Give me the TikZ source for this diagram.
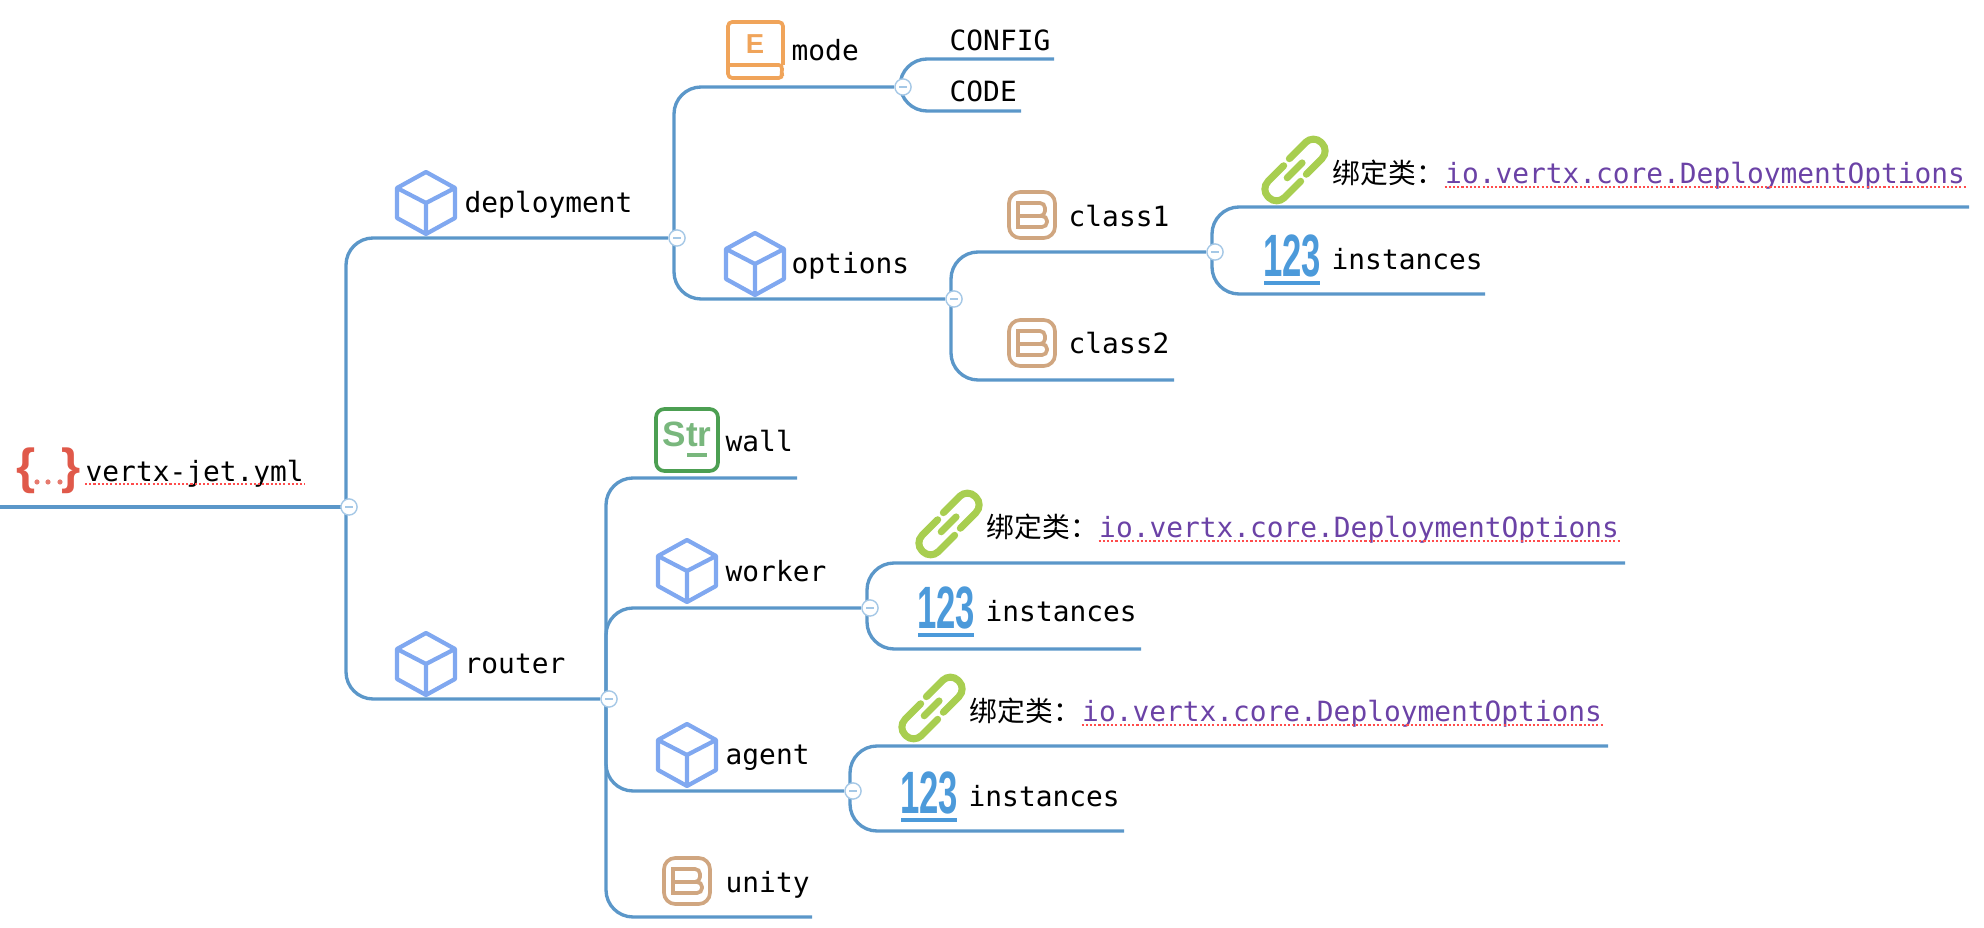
\documentclass[tikz,border=0pt]{standalone}
\usepackage{graphicx}
\usepackage{fontspec}
\setmainfont{Liberation Sans}
\setmonofont{DejaVu Sans Mono}
\newfontfamily\cjkfont{Noto Sans CJK SC}
\usetikzlibrary{positioning,backgrounds}
\definecolor{branchblue}{HTML}{5B97C9}
\definecolor{knotblue}{HTML}{A5C8E6}
\definecolor{cubeblue}{HTML}{80A8F0}
\definecolor{bookorange}{HTML}{F0A45A}
\definecolor{boxtan}{HTML}{D0A680}
\definecolor{linkgreen}{HTML}{A8CE50}
\definecolor{numblue}{HTML}{4C9ADA}
\definecolor{strgreen}{HTML}{4C9F52}
\definecolor{bracered}{HTML}{E0594A}
\definecolor{linkpurple}{HTML}{6B42A6}
\tikzset{
  cubeicon/.pic={
    \draw[cubeblue, line width=1.2pt, line join=round] (0,-31) -- (29,-15) -- (29,15) -- (0,31) -- (-29,15) -- (-29,-15) -- cycle;
    \draw[cubeblue, line width=1.2pt, line join=round] (-29,-15) -- (0,0) -- (29,-15) (0,0) -- (0,31);
  },
  bookicon/.pic={
    \draw[bookorange, line width=1.05pt, rounded corners=1.2pt] (28,15) -- (28,-28) -- (-27,-28) -- (-27,28) -- (28,28) -- (26,22) -- (28,15) -- (-27,15);
    \node[bookorange, inner sep=0pt, font=\fontsize{7.8}{8}\selectfont\bfseries] (letter) at (0,-6) {E};
  },
  boxicon/.pic={
    \draw[boxtan, line width=1.05pt, rounded corners=3.2pt] (-23,-23) rectangle (23,23);
    \draw[boxtan, line width=1.05pt] (-14,1) -- (-14,-12) [rounded corners=1.4pt] -- (13,-12) -- (13,1) [sharp corners] -- (-14,1);
    \draw[boxtan, line width=1.05pt] (-14,1) [rounded corners=1.4pt] -- (15,1) -- (15,12) [sharp corners] -- (-14,12) -- cycle;
  },
  linkicon/.pic={
    \begin{scope}[rotate=45, line width=2pt, linkgreen, rounded corners=3.1pt, line cap=round]
      \draw (4,-12) -- (38,-12) -- (38,11) -- (5,11);
      \draw (-4,12) -- (-38,12) -- (-38,-11) -- (-5,-11);
      \draw (-11,0) -- (10,0);
    \end{scope}
  },
  numicon/.pic={
    \node[numblue, inner sep=0pt, font=\fontsize{17}{17}\selectfont\bfseries] (digits) at (0,-3) {\scalebox{.58}[1]{123}};
    \draw[numblue, line width=1.2pt] (-28,24) -- (28,24);
  },
  stricon/.pic={
    \draw[strgreen, line width=1.05pt, rounded corners=2.4pt] (-31,-31) rectangle (31,31);
    \node[strgreen!75!white, inner sep=0pt, font=\fontsize{10}{10}\selectfont\bfseries] (letters) at (0,-6) {Str};
    \draw[strgreen!75!white, line width=1pt] (0,15) -- (20,15);
  },
  braceicon/.pic={
    \node[bracered, inner sep=0pt, font=\fontsize{14}{14}\selectfont\bfseries] (lbrace) at (-22,0) {\{};
    \node[bracered, inner sep=0pt, font=\fontsize{14}{14}\selectfont\bfseries] (rbrace) at (23,0) {\}};
    \foreach \d in {-11,0,12}{\fill[bracered!80!white] (\d,11) circle (2.6);}
  }
}
\begin{document}
\begin{tikzpicture}[x=0.01cm, y=-0.01cm,
  branch/.style={draw=branchblue, line width=0.95pt, rounded corners=7.7pt},
  knot/.style={circle, draw=knotblue, fill=white, line width=0.4pt, minimum size=4.6pt, inner sep=0pt,
    path picture={\draw[knotblue, line width=0.4pt] ([xshift=-1.1pt]path picture bounding box.center) -- ([xshift=1.1pt]path picture bounding box.center);}},
  lbl/.style={inner sep=0pt, anchor=base west, font=\fontsize{7.92}{9.5}\selectfont\ttfamily},
  bindlbl/.style={inner sep=0pt, anchor=base west, font=\fontsize{7.9}{9.5}\selectfont\cjkfont},
  urllbl/.style={lbl, text=linkpurple},
  spell/.style={draw=red!70!white, line width=0.6pt, dash pattern=on 0.6pt off 0.6pt}]
\useasboundingbox (0,0) rectangle (1984,928);

% knots
\node[knot] (rootk) at (349,507) {};
\node[knot] (deployk) at (677,238) {};
\node[knot] (modek) at (903,87) {};
\node[knot] (optk) at (954,299) {};
\node[knot] (classk) at (1215,252) {};
\node[knot] (routerk) at (609,699) {};
\node[knot] (workerk) at (870,608) {};
\node[knot] (agentk) at (853,791) {};

% free ends
\coordinate (rootin) at (0,507);
\coordinate (configend) at (1054,59);
\coordinate (codeend) at (1021,111);
\coordinate (class2end) at (1174,380);
\coordinate (bind1end) at (1969,207);
\coordinate (inst1end) at (1485,294);
\coordinate (wallend) at (797,478);
\coordinate (unityend) at (812,917);
\coordinate (bind2end) at (1625,563);
\coordinate (inst2end) at (1141,649);
\coordinate (bind3end) at (1608,746);
\coordinate (inst3end) at (1124,831);

\begin{scope}[on background layer]
\draw[branch] (rootin) -- (rootk.center);
\foreach \a/\b in {rootk/deployk,rootk/routerk,deployk/modek,deployk/optk,modek/configend,modek/codeend,optk/classk,optk/class2end,classk/bind1end,classk/inst1end,routerk/wallend,routerk/workerk,routerk/agentk,routerk/unityend,workerk/bind2end,workerk/inst2end,agentk/bind3end,agentk/inst3end}{\draw[branch] ([xshift=-0.03cm]\a.center) |- (\b);}
\end{scope}

% root
\pic (rooticon) at (48,471) {braceicon};
\node[lbl] (root) at (85,482) {vertx-jet.yml};
\draw[spell] (85,484) -- (305,484);

% deployment
\pic (deployicon) at (426,203) {cubeicon};
\node[lbl] (deploy) at (464,213) {deployment};
\pic (modeicon) at (755,50) {bookicon};
\node[lbl] (mode) at (791,61) {mode};
\node[lbl] (config) at (949,51) {CONFIG};
\node[lbl] (code) at (949,102) {CODE};
\pic (opticon) at (755,264) {cubeicon};
\node[lbl] (opt) at (791,274) {options};
\pic (class1icon) at (1032,215) {boxicon};
\node[lbl] (class1) at (1068,227) {class1};
\pic (class2icon) at (1032,343) {boxicon};
\node[lbl] (class2) at (1068,354) {class2};

% router
\pic (routericon) at (426,664) {cubeicon};
\node[lbl] (router) at (464,674) {router};
\pic (wallicon) at (687,440) {stricon};
\node[lbl] (wall) at (725,452) {wall};
\pic (workericon) at (687,571) {cubeicon};
\node[lbl] (worker) at (725,582) {worker};
\pic (agenticon) at (687,755) {cubeicon};
\node[lbl] (agent) at (725,765) {agent};
\pic (unityicon) at (687,881) {boxicon};
\node[lbl] (unity) at (725,893) {unity};

% bindings and instances
\foreach \n/\x/\y/\ny in {1/1295/170/259,2/949/524/611,3/932/708/796}{
  \pic (link\n) at (\x,\y) {linkicon};
  \node[bindlbl] (bind\n) at ({\x+37},{\y+14}) {绑定类：};
  \node[urllbl, base right=0pt of bind\n] (url\n) {io.vertx.core.DeploymentOptions};
  \draw[spell] ([yshift=-0.9pt]url\n.base west) -- ([yshift=-0.9pt]url\n.base east);
  \pic (num\n) at ({\x-3},\ny) {numicon};
  \node[lbl] (inst\n) at ({\x+36},{\ny+11}) {instances};
}
\end{tikzpicture}
\end{document}
